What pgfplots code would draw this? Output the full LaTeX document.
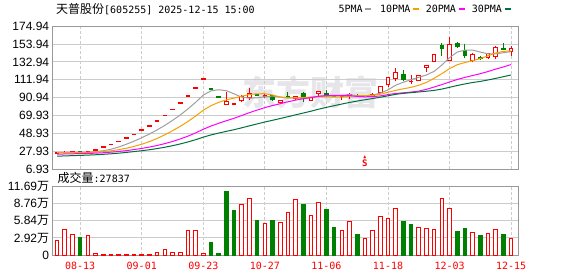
\documentclass[border=0pt]{standalone}
\usepackage{fontspec}
\setmainfont{Liberation Sans}
\newfontfamily\cjk{Noto Sans CJK SC}
\newfontfamily\mono{DejaVu Sans Mono}
\usepackage{pgfplots}
\pgfplotsset{compat=1.18}
\usepackage{pgfplotstable}

\definecolor{kred}{HTML}{FF0000}
\definecolor{kgreen}{HTML}{008000}
\definecolor{ma5}{HTML}{9E9E9E}
\definecolor{ma10}{HTML}{F5A000}
\definecolor{ma20}{HTML}{FF00FF}
\definecolor{ma30}{HTML}{00703C}
\definecolor{gridc}{HTML}{CCCCCC}
\definecolor{framec}{HTML}{999999}
\definecolor{wm}{HTML}{E6E6EA}

% red (close >= open) candles: index open high low close
\pgfplotstableread{
i o h l c
0 25.5 26.5 25.2 26.0
1 26.0 27.8 25.8 27.0
2 26.8 27.8 26.5 27.2
4 26.6 27.4 26.3 27.0
5 29.7 29.7 29.7 29.7
6 32.7 32.7 32.7 32.7
7 35.9 35.9 35.9 35.9
8 39.5 39.5 39.5 39.5
9 43.5 43.5 43.5 43.5
10 47.8 47.8 47.8 47.8
11 52.6 52.6 52.6 52.6
12 57.9 57.9 57.9 57.9
13 63.7 63.7 63.7 63.7
14 70.0 70.0 70.0 70.0
15 77.0 77.0 77.0 77.0
16 84.7 84.7 84.7 84.7
17 93.2 93.2 93.2 93.2
18 102.5 102.5 102.5 102.5
19 112.8 112.8 112.8 112.8
22 82.4 97.9 82.4 87.4
23 83.6 84.5 83.0 84.0
24 86.6 94.0 86.0 92.9
25 90.1 102.0 88.6 96.4
27 91.8 95.5 90.5 93.5
29 84.5 88.5 83.1 88.0
31 89.0 93.5 88.5 92.9
33 87.4 92.0 87.0 91.3
34 95.3 99.1 91.3 98.3
37 92.3 93.3 88.6 93.0
38 93.3 96.4 89.5 95.6
40 93.2 94.5 92.5 93.6
41 93.6 96.0 93.0 94.5
42 96.4 104.5 96.0 104.1
43 105.3 115.5 104.0 115.1
44 113.3 125.9 110.0 120.6
46 109.6 117.0 107.5 110.0
47 111.1 118.0 110.5 117.4
48 125.6 129.5 121.6 129.1
49 133.3 142.5 132.5 141.9
51 134.5 162.5 134.0 153.6
54 134.5 143.5 132.5 142.3
56 137.3 144.0 136.1 143.4
57 138.4 152.0 136.1 150.1
59 144.3 152.0 140.3 148.9
}\redk

% green (close < open) candles
\pgfplotstableread{
i o h l c
3 27.3 27.6 26.2 26.6
20 101.5 101.5 101.5 101.5
21 91.4 91.4 91.4 91.4
26 94.4 95.5 92.5 93.3
28 93.6 94.0 87.5 87.8
30 92.0 97.5 91.0 91.5
32 96.8 97.5 85.9 90.6
35 96.8 99.5 91.5 92.9
36 93.6 94.2 92.2 92.7
39 93.8 95.5 92.8 93.3
45 118.3 124.0 110.5 111.3
50 153.1 154.6 140.3 148.1
52 155.1 156.5 149.5 150.1
53 146.6 153.9 137.3 140.3
55 138.4 140.3 135.0 136.1
58 149.3 155.1 146.5 147.0
}\greenk

% moving averages
\pgfplotstableread{
i m5 m10 m20 m30
0 26.40 26.30 24.60 22.20
1 26.50 26.38 24.81 22.52
2 26.64 26.48 25.02 22.85
3 26.66 26.52 25.21 23.15
4 26.76 26.60 25.41 23.47
5 27.50 26.95 25.75 23.88
6 28.64 27.57 26.24 24.39
7 30.38 28.51 26.89 25.01
8 32.96 29.81 27.72 25.75
9 36.26 31.51 28.75 26.62
10 39.88 33.69 30.00 27.63
11 43.86 36.25 31.32 28.62
12 48.26 39.32 32.90 29.79
13 53.10 43.03 34.78 31.15
14 58.40 47.33 36.97 32.72
15 64.24 52.06 39.51 34.52
16 70.66 57.26 42.42 36.58
17 77.72 62.99 45.75 38.92
18 85.48 69.29 49.55 41.58
19 94.04 76.22 53.87 44.57
20 98.94 81.59 57.64 47.19
21 100.28 85.47 60.86 49.37
22 99.12 88.42 63.87 51.41
23 95.42 90.45 66.74 53.33
24 91.44 92.74 70.04 55.56
25 90.42 94.68 73.37 57.90
26 90.80 95.54 76.40 60.12
27 92.02 95.57 79.28 62.36
28 92.78 94.10 81.70 64.40
29 91.80 91.62 83.92 66.45
30 90.72 90.57 86.08 68.62
31 90.64 90.72 88.10 70.81
32 90.06 91.04 89.73 72.93
33 90.76 91.77 91.11 75.08
34 92.82 92.31 92.53 77.46
35 93.20 91.96 93.32 79.57
36 93.16 91.90 93.72 81.57
37 93.64 91.85 93.71 83.47
38 94.50 92.63 93.37 85.34
39 93.50 93.16 92.39 87.00
40 93.64 93.42 92.00 88.53
41 94.00 93.58 92.15 89.92
42 96.22 94.93 92.99 91.46
43 100.12 97.31 94.54 93.18
44 105.58 99.54 95.93 94.86
45 109.12 101.38 96.67 96.01
46 112.22 103.11 97.51 96.85
47 114.88 105.55 98.70 97.66
48 117.68 108.90 100.77 98.54
49 121.94 113.76 103.46 99.51
50 129.30 119.21 106.32 101.07
51 138.02 125.12 109.35 103.14
52 144.56 129.72 112.33 105.23
53 146.80 132.24 114.78 107.11
54 146.88 134.41 116.98 108.75
55 144.48 136.89 119.14 110.08
56 142.44 140.23 121.67 111.75
57 142.44 143.50 124.53 113.63
58 143.78 145.29 127.10 115.61
59 145.10 145.99 129.88 117.64
}\matab

\pgfplotsset{
  kbase/.style={
    scale only axis, width=466.5bp,
    xmin=-0.62, xmax=60,
    xtick={3,11,...,59},
    major tick length=0pt,
    axis line style={framec, line width=1bp},
    xmajorgrids, ymajorgrids,
    x grid style={gridc, line width=1bp, dash pattern=on 3bp off 2bp},
    y grid style={gridc, line width=1bp},
    yticklabel style={font=\fontsize{12bp}{12bp}\selectfont, text=black, inner sep=0pt, xshift=-3bp},
  }
}

\begin{document}
\begin{tikzpicture}[x=1bp,y=1bp]
\path[use as bounding box] (0,0) rectangle (578,276);

% watermark
\node[text=wm, font=\cjk\bfseries\fontsize{34bp}{34bp}\selectfont, inner sep=0pt] at (310,184) {东方财富};

% title
\node[anchor=west, inner sep=0pt] at (56,266.7) {{\cjk\fontsize{12bp}{12bp}\selectfont 天普股份}{\mono\fontsize{10bp}{10bp}\selectfont [605255] 2025-12-15 15:00}};

% legend
\begin{scope}[font=\mono\fontsize{10bp}{10bp}\selectfont]
\node[anchor=west, inner sep=0pt] at (338.3,266.7) {5PMA};
\draw[ma5, line width=2bp] (365,266.7) -- (371,266.7);
\node[anchor=west, inner sep=0pt] at (380,266.7) {10PMA};
\draw[ma10, line width=2bp] (412.7,266.7) -- (418.5,266.7);
\node[anchor=west, inner sep=0pt] at (425.7,266.7) {20PMA};
\draw[ma20, line width=2bp] (459,266.7) -- (464.5,266.7);
\node[anchor=west, inner sep=0pt] at (471.7,266.7) {30PMA};
\draw[ma30, line width=2bp] (505,266.7) -- (510.7,266.7);
\end{scope}

% volume caption
\node[anchor=west, inner sep=0pt] at (57.5,98.5) {{\cjk\fontsize{12bp}{12bp}\selectfont 成交量}{\mono\fontsize{10bp}{10bp}\selectfont :27837}};

% price panel
\begin{axis}[kbase,
  at={(68,125.5)}, anchor=south west, height=143bp,
  ymin=6.93, ymax=174.94,
  xticklabels={},
  ytick={6.93,27.93,48.93,69.93,90.94,111.94,132.94,153.94,174.94},
  yticklabels={6.93,27.93,48.93,69.93,90.94,111.94,132.94,153.94,174.94},
]
% wicks
\addplot[kred, line width=1bp, quiver={u=0, v={\thisrow{h}-\thisrow{l}}}] table[x=i, y=l] {\redk};
\addplot[kgreen, line width=1bp, quiver={u=0, v={\thisrow{h}-\thisrow{l}}}] table[x=i, y=l] {\greenk};
% bodies
\addplot[kred, line width=4.6bp, quiver={u=0, v={max(abs(\thisrow{c}-\thisrow{o}),2)}}]
  table[x=i, y expr={(\thisrow{o}+\thisrow{c})/2-max(abs(\thisrow{c}-\thisrow{o}),2)/2}] {\redk};
\addplot[white, line width=2.6bp, quiver={u=0, v={max(abs(\thisrow{c}-\thisrow{o})-2.35,0)}}]
  table[x=i, y expr={min(\thisrow{o},\thisrow{c})+1.175}] {\redk};
\addplot[kgreen, line width=4.6bp, quiver={u=0, v={max(abs(\thisrow{c}-\thisrow{o}),2)}}]
  table[x=i, y expr={(\thisrow{o}+\thisrow{c})/2-max(abs(\thisrow{c}-\thisrow{o}),2)/2}] {\greenk};
% moving averages
\addplot[ma5, line width=1bp] table[x=i, y=m5] {\matab};
\addplot[ma10, line width=1bp] table[x=i, y=m10] {\matab};
\addplot[ma20, line width=1bp] table[x=i, y=m20] {\matab};
\addplot[ma30, line width=1bp] table[x=i, y=m30] {\matab};
% S marker
\node[text=kred, font=\mono\bfseries\fontsize{9bp}{9bp}\selectfont, inner sep=0pt] at (axis cs:40,13.8) {S};
\node[text=kred, font=\mono\fontsize{5bp}{5bp}\selectfont, inner sep=0pt] at (axis cs:40,21.2) {▲};
\end{axis}

% volume panel
\begin{axis}[kbase,
  at={(68,35.8)}, anchor=south west, height=68.4bp,
  ymin=0, ymax=11.69,
  ybar, bar width=3.6bp,
  xticklabels={08-13,09-01,09-23,10-27,11-06,11-18,12-03,12-15},
  xticklabel style={font=\mono\fontsize{10bp}{10bp}\selectfont, text=kred, anchor=center, inner sep=0pt, yshift=-11.3bp},
  ytick={0,2.92,5.84,8.76,11.69},
  yticklabels={0,2.92{\cjk 万},5.84{\cjk 万},8.76{\cjk 万},11.69{\cjk 万}},
]
\addplot[draw=kred, fill=white, line width=1bp, bar shift=0pt] coordinates {
(0,2.45) (1,4.33) (2,3.48) (4,3.31) (5,0.28) (6,0.1) (7,0.1) (8,0.1) (9,0.1) (10,0.1)
(11,0.1) (12,0.1) (13,0.4) (14,0.9) (15,0.4) (16,0.4) (17,4.16) (18,4.16) (19,0.3)
(24,8.6) (25,9.63) (27,5.36) (29,5.55) (30,7.24) (31,9.46) (33,6.78) (34,8.95)
(37,4.16) (38,5.70) (40,2.79) (41,4.16) (42,6.56) (43,6.21) (44,7.92) (47,4.68)
(48,4.50) (49,4.33) (50,9.63) (51,7.92) (54,3.82) (56,3.71) (57,4.33) (59,2.78)
};
\addplot[draw=kgreen, fill=kgreen, line width=1bp, bar shift=0pt] coordinates {
(3,2.96) (20,2.17) (21,0.3) (22,10.9) (23,7.64) (26,5.93) (28,5.93) (32,8.67)
(35,7.81) (36,4.73) (39,3.53) (45,5.76) (46,5.25) (52,4.05) (53,4.56) (55,3.36) (58,3.53)
};
\end{axis}
\end{tikzpicture}
\end{document}
